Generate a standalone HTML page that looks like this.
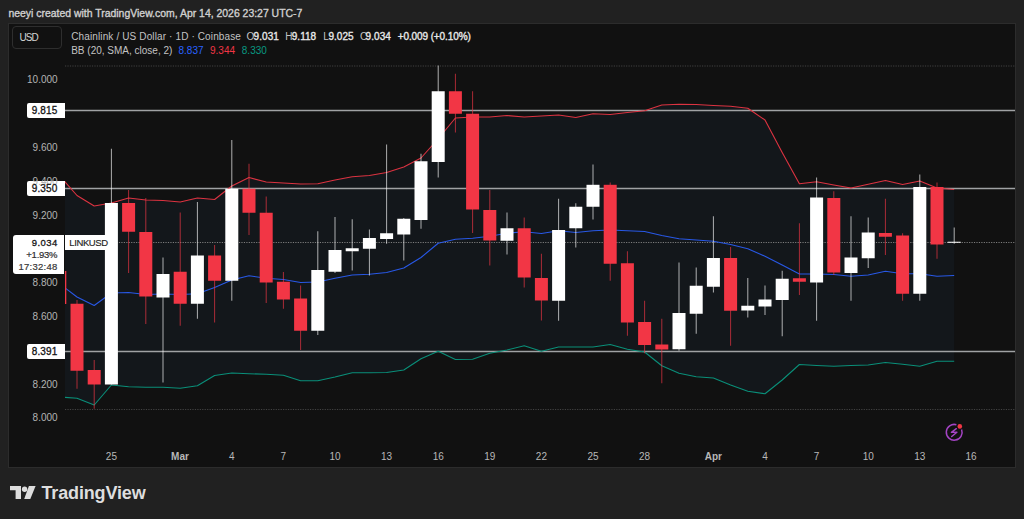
<!DOCTYPE html>
<html><head><meta charset="utf-8"><style>
*{margin:0;padding:0;box-sizing:border-box}
html,body{width:1024px;height:519px;overflow:hidden;background:#212121;font-family:"Liberation Sans",sans-serif}
.t{position:absolute;white-space:nowrap}
.panel{position:absolute;left:8px;top:23px;width:1008px;height:445px;background:#111111;border:1px solid #2c2c2c}
.chart{position:absolute;left:65px;top:24px}
.usd{position:absolute;left:12px;top:26px;width:50px;height:23px;border:1px solid #2e2e2e;border-radius:4px}
.tag{position:absolute;left:27px;width:38px;height:15px;background:#fff;border-radius:2px 0 0 2px}
.cur{position:absolute;left:13px;top:235px;width:51px;height:39px;background:#fff;border-radius:3px 0 0 3px}
.sym{position:absolute;left:65.3px;top:235px;width:45px;height:15px;background:#fff}
.logo{position:absolute;left:10px;top:486px}
</style></head><body>
<div class="panel"></div>
<svg class="chart" width="950" height="443" viewBox="65 24 950 443">
<defs><clipPath id="cp"><rect x="65" y="24" width="950" height="443"/></clipPath></defs>
<g clip-path="url(#cp)">
<polygon points="59.8,176 77,195.5 94.2,206 111.4,203 128.6,198 145.8,200 163,200.5 180.2,202 197.4,198 214.6,199.5 231.8,186 249,177.5 266.2,182 283.4,183 300.6,184 317.8,183.75 335,180 352.2,176.75 369.4,175.5 386.6,172.5 403.8,167 421,158 438.2,138.75 455.4,118 472.6,117 489.8,117 507,115.5 524.2,117 541.4,116 558.6,115 575.8,117.5 593,113.75 610.2,114.5 627.4,112.5 644.6,110.75 661.8,105 679,104.25 696.2,104.5 713.4,105.5 730.6,106.25 747.8,108.25 765,120 782.2,152.5 799.4,183.75 816.6,181.75 833.8,185 851,188 868.2,184.25 885.4,180.5 902.6,184.5 919.8,181 937,188 954.2,189.5 954.2,361.25 937,361.25 919.8,366.25 902.6,364.25 885.4,362.5 868.2,365 851,365.5 833.8,366.25 816.6,365.5 799.4,364.5 782.2,380 765,393.8 747.8,391.25 730.6,385 713.4,378 696.2,376.75 679,373.25 661.8,365.75 644.6,352 627.4,349.25 610.2,344.5 593,347 575.8,347 558.6,347 541.4,351.25 524.2,345.75 507,350 489.8,353.25 472.6,359.25 455.4,359.5 438.2,351.25 421,358.75 403.8,370 386.6,372.5 369.4,372.75 352.2,372.75 335,377 317.8,380.75 300.6,380.75 283.4,375.25 266.2,374.25 249,373.75 231.8,373 214.6,375.5 197.4,385.75 180.2,388.25 163,387.25 145.8,387.25 128.6,386.75 111.4,385 94.2,405 77,398.25 59.8,397" fill="#13171b"/>
<line x1="65" y1="66" x2="1015" y2="66" stroke="#434343" stroke-width="1" stroke-dasharray="1.2 1.25"/>
<line x1="65" y1="409.5" x2="1015" y2="409.5" stroke="#434343" stroke-width="1" stroke-dasharray="1.2 1.25"/>
<line x1="65" y1="242.5" x2="1015" y2="242.5" stroke="#7c7c7c" stroke-width="1" stroke-dasharray="1.2 1.25"/>
<line x1="65" y1="110.5" x2="1015" y2="110.5" stroke="#a0a2a4" stroke-width="1.3"/>
<line x1="65" y1="188.5" x2="1015" y2="188.5" stroke="#a0a2a4" stroke-width="1.3"/>
<line x1="65" y1="351.5" x2="1015" y2="351.5" stroke="#a0a2a4" stroke-width="1.3"/>
<polyline points="59.8,176 77,195.5 94.2,206 111.4,203 128.6,198 145.8,200 163,200.5 180.2,202 197.4,198 214.6,199.5 231.8,186 249,177.5 266.2,182 283.4,183 300.6,184 317.8,183.75 335,180 352.2,176.75 369.4,175.5 386.6,172.5 403.8,167 421,158 438.2,138.75 455.4,118 472.6,117 489.8,117 507,115.5 524.2,117 541.4,116 558.6,115 575.8,117.5 593,113.75 610.2,114.5 627.4,112.5 644.6,110.75 661.8,105 679,104.25 696.2,104.5 713.4,105.5 730.6,106.25 747.8,108.25 765,120 782.2,152.5 799.4,183.75 816.6,181.75 833.8,185 851,188 868.2,184.25 885.4,180.5 902.6,184.5 919.8,181 937,188 954.2,189.5" fill="none" stroke="#dc3341" stroke-width="1.1" stroke-linejoin="round"/>
<polyline points="59.8,284 77,297 94.2,305.5 111.4,293 128.6,292.5 145.8,294.5 163,294 180.2,294.5 197.4,293.75 214.6,287.5 231.8,280 249,275.75 266.2,278.25 283.4,279.5 300.6,282.5 317.8,282 335,278.25 352.2,275 369.4,274.25 386.6,272.5 403.8,268 421,257.5 438.2,243.25 455.4,239.25 472.6,238.25 489.8,236.25 507,233.25 524.2,231.75 541.4,233.5 558.6,230.75 575.8,232.5 593,230.75 610.2,230 627.4,230.75 644.6,231.5 661.8,235.5 679,238.75 696.2,240 713.4,241.25 730.6,244.5 747.8,248.75 765,256.25 782.2,265 799.4,274 816.6,274 833.8,274.5 851,276.25 868.2,275 885.4,271.25 902.6,273.75 919.8,273.75 937,276.25 954.2,275.5" fill="none" stroke="#2858e6" stroke-width="1.1" stroke-linejoin="round"/>
<polyline points="59.8,397 77,398.25 94.2,405 111.4,385 128.6,386.75 145.8,387.25 163,387.25 180.2,388.25 197.4,385.75 214.6,375.5 231.8,373 249,373.75 266.2,374.25 283.4,375.25 300.6,380.75 317.8,380.75 335,377 352.2,372.75 369.4,372.75 386.6,372.5 403.8,370 421,358.75 438.2,351.25 455.4,359.5 472.6,359.25 489.8,353.25 507,350 524.2,345.75 541.4,351.25 558.6,347 575.8,347 593,347 610.2,344.5 627.4,349.25 644.6,352 661.8,365.75 679,373.25 696.2,376.75 713.4,378 730.6,385 747.8,391.25 765,393.8 782.2,380 799.4,364.5 816.6,365.5 833.8,366.25 851,365.5 868.2,365 885.4,362.5 902.6,364.25 919.8,366.25 937,361.25 954.2,361.25" fill="none" stroke="#0a8f79" stroke-width="1.1" stroke-linejoin="round"/>
<rect x="59.3" y="265" width="1" height="45" fill="#f23645" fill-opacity="0.68"/><rect x="53.3" y="271" width="13" height="33" fill="#f23645"/><rect x="76.5" y="300" width="1" height="88.75" fill="#f23645" fill-opacity="0.68"/><rect x="70.5" y="303.75" width="13" height="67" fill="#f23645"/><rect x="93.7" y="360" width="1" height="48.75" fill="#f23645" fill-opacity="0.68"/><rect x="87.7" y="370" width="13" height="14.5" fill="#f23645"/><rect x="110.9" y="148.75" width="1" height="235.75" fill="#ffffff" fill-opacity="0.66"/><rect x="104.9" y="203" width="13" height="181.5" fill="#ffffff"/><rect x="128.1" y="190" width="1" height="83" fill="#f23645" fill-opacity="0.68"/><rect x="122.1" y="203" width="13" height="28.75" fill="#f23645"/><rect x="145.3" y="198" width="1" height="126" fill="#f23645" fill-opacity="0.68"/><rect x="139.3" y="232" width="13" height="64.5" fill="#f23645"/><rect x="162.5" y="257.5" width="1" height="125" fill="#ffffff" fill-opacity="0.66"/><rect x="156.5" y="274" width="13" height="23.5" fill="#ffffff"/><rect x="179.7" y="212.5" width="1" height="113.25" fill="#f23645" fill-opacity="0.68"/><rect x="173.7" y="271.75" width="13" height="32" fill="#f23645"/><rect x="196.9" y="202" width="1" height="116.75" fill="#ffffff" fill-opacity="0.66"/><rect x="190.9" y="255.5" width="13" height="48.25" fill="#ffffff"/><rect x="214.1" y="245" width="1" height="77.5" fill="#f23645" fill-opacity="0.68"/><rect x="208.1" y="255.5" width="13" height="25.25" fill="#f23645"/><rect x="231.3" y="140" width="1" height="160.75" fill="#ffffff" fill-opacity="0.66"/><rect x="225.3" y="188.75" width="13" height="92" fill="#ffffff"/><rect x="248.5" y="163.75" width="1" height="71.25" fill="#f23645" fill-opacity="0.68"/><rect x="242.5" y="188.75" width="13" height="24" fill="#f23645"/><rect x="265.7" y="196.5" width="1" height="106.5" fill="#f23645" fill-opacity="0.68"/><rect x="259.7" y="212.75" width="13" height="69.75" fill="#f23645"/><rect x="282.9" y="272" width="1" height="36.75" fill="#f23645" fill-opacity="0.68"/><rect x="276.9" y="281.75" width="13" height="17.75" fill="#f23645"/><rect x="300.1" y="285.5" width="1" height="64.5" fill="#f23645" fill-opacity="0.68"/><rect x="294.1" y="298.5" width="13" height="32.25" fill="#f23645"/><rect x="317.3" y="231.25" width="1" height="103.75" fill="#ffffff" fill-opacity="0.66"/><rect x="311.3" y="270" width="13" height="60.75" fill="#ffffff"/><rect x="334.5" y="217" width="1" height="56" fill="#ffffff" fill-opacity="0.66"/><rect x="328.5" y="250" width="13" height="21.75" fill="#ffffff"/><rect x="351.7" y="219.25" width="1" height="51.25" fill="#ffffff" fill-opacity="0.66"/><rect x="345.7" y="248.25" width="13" height="3" fill="#ffffff"/><rect x="368.9" y="229.5" width="1" height="46" fill="#ffffff" fill-opacity="0.66"/><rect x="362.9" y="238" width="13" height="10.75" fill="#ffffff"/><rect x="386.1" y="144.5" width="1" height="99.25" fill="#ffffff" fill-opacity="0.66"/><rect x="380.1" y="233.25" width="13" height="5.75" fill="#ffffff"/><rect x="403.3" y="218" width="1" height="42.5" fill="#ffffff" fill-opacity="0.66"/><rect x="397.3" y="218.75" width="13" height="15.75" fill="#ffffff"/><rect x="420.5" y="153.75" width="1" height="75" fill="#ffffff" fill-opacity="0.66"/><rect x="414.5" y="161.25" width="13" height="58.75" fill="#ffffff"/><rect x="437.7" y="65.5" width="1" height="112" fill="#ffffff" fill-opacity="0.66"/><rect x="431.7" y="91.25" width="13" height="70.75" fill="#ffffff"/><rect x="454.9" y="73.75" width="1" height="58.75" fill="#f23645" fill-opacity="0.68"/><rect x="448.9" y="91.25" width="13" height="22.5" fill="#f23645"/><rect x="472.1" y="91.25" width="1" height="141.75" fill="#f23645" fill-opacity="0.68"/><rect x="466.1" y="113.75" width="13" height="95.75" fill="#f23645"/><rect x="489.3" y="190" width="1" height="75.5" fill="#f23645" fill-opacity="0.68"/><rect x="483.3" y="210" width="13" height="30.5" fill="#f23645"/><rect x="506.5" y="212.5" width="1" height="42" fill="#ffffff" fill-opacity="0.66"/><rect x="500.5" y="228.25" width="13" height="12.5" fill="#ffffff"/><rect x="523.7" y="217.5" width="1" height="70" fill="#f23645" fill-opacity="0.68"/><rect x="517.7" y="228.25" width="13" height="49.25" fill="#f23645"/><rect x="540.9" y="253.75" width="1" height="66.75" fill="#f23645" fill-opacity="0.68"/><rect x="534.9" y="278" width="13" height="22.5" fill="#f23645"/><rect x="558.1" y="198.75" width="1" height="122" fill="#ffffff" fill-opacity="0.66"/><rect x="552.1" y="230" width="13" height="70.75" fill="#ffffff"/><rect x="575.3" y="203.25" width="1" height="44.25" fill="#ffffff" fill-opacity="0.66"/><rect x="569.3" y="206.75" width="13" height="21.5" fill="#ffffff"/><rect x="592.5" y="164.5" width="1" height="55" fill="#ffffff" fill-opacity="0.66"/><rect x="586.5" y="184.8" width="13" height="21.95" fill="#ffffff"/><rect x="609.7" y="182.5" width="1" height="98.25" fill="#f23645" fill-opacity="0.68"/><rect x="603.7" y="184.8" width="13" height="78.95" fill="#f23645"/><rect x="626.9" y="251.25" width="1" height="84.5" fill="#f23645" fill-opacity="0.68"/><rect x="620.9" y="263.25" width="13" height="59.25" fill="#f23645"/><rect x="644.1" y="300.75" width="1" height="52.5" fill="#f23645" fill-opacity="0.68"/><rect x="638.1" y="322" width="13" height="23" fill="#f23645"/><rect x="661.3" y="318.75" width="1" height="64.5" fill="#f23645" fill-opacity="0.68"/><rect x="655.3" y="344.5" width="13" height="5" fill="#f23645"/><rect x="678.5" y="262.5" width="1" height="88.25" fill="#ffffff" fill-opacity="0.66"/><rect x="672.5" y="313" width="13" height="36.25" fill="#ffffff"/><rect x="695.7" y="267.5" width="1" height="66.25" fill="#ffffff" fill-opacity="0.66"/><rect x="689.7" y="285.75" width="13" height="28" fill="#ffffff"/><rect x="712.9" y="216.25" width="1" height="76.25" fill="#ffffff" fill-opacity="0.66"/><rect x="706.9" y="258" width="13" height="28.75" fill="#ffffff"/><rect x="730.1" y="247" width="1" height="98.75" fill="#f23645" fill-opacity="0.68"/><rect x="724.1" y="258" width="13" height="52.75" fill="#f23645"/><rect x="747.3" y="278" width="1" height="39.5" fill="#ffffff" fill-opacity="0.66"/><rect x="741.3" y="305.75" width="13" height="4.75" fill="#ffffff"/><rect x="764.5" y="285.5" width="1" height="29.5" fill="#ffffff" fill-opacity="0.66"/><rect x="758.5" y="299.5" width="13" height="7" fill="#ffffff"/><rect x="781.7" y="270.75" width="1" height="65.5" fill="#ffffff" fill-opacity="0.66"/><rect x="775.7" y="278.75" width="13" height="21.25" fill="#ffffff"/><rect x="798.9" y="223.25" width="1" height="71.75" fill="#f23645" fill-opacity="0.68"/><rect x="792.9" y="278.25" width="13" height="3.5" fill="#f23645"/><rect x="816.1" y="177.5" width="1" height="143.25" fill="#ffffff" fill-opacity="0.66"/><rect x="810.1" y="197.5" width="13" height="85" fill="#ffffff"/><rect x="833.3" y="191.25" width="1" height="83.75" fill="#f23645" fill-opacity="0.68"/><rect x="827.3" y="198" width="13" height="74.5" fill="#f23645"/><rect x="850.5" y="216.25" width="1" height="84.5" fill="#ffffff" fill-opacity="0.66"/><rect x="844.5" y="257.5" width="13" height="15.5" fill="#ffffff"/><rect x="867.7" y="217.5" width="1" height="50.5" fill="#ffffff" fill-opacity="0.66"/><rect x="861.7" y="232.5" width="13" height="25.75" fill="#ffffff"/><rect x="884.9" y="198.75" width="1" height="56.25" fill="#f23645" fill-opacity="0.68"/><rect x="878.9" y="233" width="13" height="3.75" fill="#f23645"/><rect x="902.1" y="233.25" width="1" height="67.5" fill="#f23645" fill-opacity="0.68"/><rect x="896.1" y="235.5" width="13" height="58.25" fill="#f23645"/><rect x="919.3" y="174.5" width="1" height="126.25" fill="#ffffff" fill-opacity="0.66"/><rect x="913.3" y="187" width="13" height="106.75" fill="#ffffff"/><rect x="936.5" y="182.5" width="1" height="76.25" fill="#f23645" fill-opacity="0.68"/><rect x="930.5" y="187" width="13" height="57.5" fill="#f23645"/><rect x="953.7" y="227.5" width="1" height="16.25" fill="#ffffff" fill-opacity="0.66"/><rect x="947.7" y="241.75" width="13" height="1" fill="#ffffff"/>
</g>
</svg>
<div class="usd"></div>
<div class="tag" style="top:102.95px"></div><div class="tag" style="top:181px"></div><div class="tag" style="top:343.8px"></div>
<div class="cur"></div>
<div class="sym"></div>
<div class="t" style="left:8.4px;top:9px;font-size:10.45px;line-height:10.45px;color:#d0d0d0;font-weight:normal;-webkit-text-stroke:0.35px #d0d0d0">neeyi created with TradingView.com, Apr 14, 2026 23:27 UTC-7</div><div class="t" style="left:71.2px;top:32px;font-size:10px;line-height:10px;color:#c3c3c3;font-weight:normal;letter-spacing:0.13px">Chainlink / US Dollar · 1D · Coinbase</div><div class="t" style="left:246.5px;top:32px;font-size:10px;line-height:10px;color:#c3c3c3;font-weight:normal;">O</div><div class="t" style="left:253.6px;top:32px;font-size:10px;line-height:10px;color:#e8e8e8;font-weight:normal;letter-spacing:0.05px;-webkit-text-stroke:0.35px">9.031</div><div class="t" style="left:285.2px;top:32px;font-size:10px;line-height:10px;color:#c3c3c3;font-weight:normal;">H</div><div class="t" style="left:291.7px;top:32px;font-size:10px;line-height:10px;color:#e8e8e8;font-weight:normal;letter-spacing:0.05px;-webkit-text-stroke:0.35px">9.118</div><div class="t" style="left:323.3px;top:32px;font-size:10px;line-height:10px;color:#c3c3c3;font-weight:normal;">L</div><div class="t" style="left:328.4px;top:32px;font-size:10px;line-height:10px;color:#e8e8e8;font-weight:normal;letter-spacing:0.05px;-webkit-text-stroke:0.35px">9.025</div><div class="t" style="left:360px;top:32px;font-size:10px;line-height:10px;color:#c3c3c3;font-weight:normal;">C</div><div class="t" style="left:365.6px;top:32px;font-size:10px;line-height:10px;color:#e8e8e8;font-weight:normal;letter-spacing:0.05px;-webkit-text-stroke:0.35px">9.034</div><div class="t" style="left:397.7px;top:32px;font-size:10px;line-height:10px;color:#e8e8e8;font-weight:normal;letter-spacing:-0.1px;-webkit-text-stroke:0.35px">+0.009 (+0.10%)</div><div class="t" style="left:71.2px;top:46px;font-size:10px;line-height:10px;color:#c3c3c3;font-weight:normal;">BB (20, SMA, close, 2)</div><div class="t" style="left:178.5px;top:46px;font-size:10px;line-height:10px;color:#2962ff;font-weight:normal;">8.837</div><div class="t" style="left:210px;top:46px;font-size:10px;line-height:10px;color:#f23645;font-weight:normal;">9.344</div><div class="t" style="left:241.8px;top:46px;font-size:10px;line-height:10px;color:#089981;font-weight:normal;">8.330</div><div class="t" style="right:966.4px;top:75px;font-size:10px;line-height:10px;color:#b4b4b4;font-weight:normal;text-align:right;">10.000</div><div class="t" style="right:966.4px;top:143px;font-size:10px;line-height:10px;color:#b4b4b4;font-weight:normal;text-align:right;">9.600</div><div class="t" style="right:966.4px;top:177px;font-size:10px;line-height:10px;color:#b4b4b4;font-weight:normal;text-align:right;">9.400</div><div class="t" style="right:966.4px;top:211px;font-size:10px;line-height:10px;color:#b4b4b4;font-weight:normal;text-align:right;">9.200</div><div class="t" style="right:966.4px;top:278px;font-size:10px;line-height:10px;color:#b4b4b4;font-weight:normal;text-align:right;">8.800</div><div class="t" style="right:966.4px;top:312px;font-size:10px;line-height:10px;color:#b4b4b4;font-weight:normal;text-align:right;">8.600</div><div class="t" style="right:966.4px;top:380px;font-size:10px;line-height:10px;color:#b4b4b4;font-weight:normal;text-align:right;">8.200</div><div class="t" style="right:966.4px;top:413px;font-size:10px;line-height:10px;color:#b4b4b4;font-weight:normal;text-align:right;">8.000</div><div class="t" style="right:966.7px;top:106px;font-size:10px;line-height:10px;color:#131313;font-weight:normal;text-align:right;letter-spacing:0.1px;-webkit-text-stroke:0.3px">9.815</div><div class="t" style="right:966.7px;top:184px;font-size:10px;line-height:10px;color:#131313;font-weight:normal;text-align:right;letter-spacing:0.1px;-webkit-text-stroke:0.3px">9.350</div><div class="t" style="right:966.7px;top:347px;font-size:10px;line-height:10px;color:#131313;font-weight:normal;text-align:right;letter-spacing:0.1px;-webkit-text-stroke:0.3px">8.391</div><div class="t" style="left:61.4px;width:100px;text-align:center;top:452px;font-size:10px;line-height:10px;color:#b8b8b8;font-weight:normal;">25</div><div class="t" style="left:130px;width:100px;text-align:center;top:452px;font-size:10px;line-height:10px;color:#b8b8b8;font-weight:bold;">Mar</div><div class="t" style="left:181.8px;width:100px;text-align:center;top:452px;font-size:10px;line-height:10px;color:#b8b8b8;font-weight:normal;">4</div><div class="t" style="left:233.4px;width:100px;text-align:center;top:452px;font-size:10px;line-height:10px;color:#b8b8b8;font-weight:normal;">7</div><div class="t" style="left:285px;width:100px;text-align:center;top:452px;font-size:10px;line-height:10px;color:#b8b8b8;font-weight:normal;">10</div><div class="t" style="left:336.6px;width:100px;text-align:center;top:452px;font-size:10px;line-height:10px;color:#b8b8b8;font-weight:normal;">13</div><div class="t" style="left:388.2px;width:100px;text-align:center;top:452px;font-size:10px;line-height:10px;color:#b8b8b8;font-weight:normal;">16</div><div class="t" style="left:439.8px;width:100px;text-align:center;top:452px;font-size:10px;line-height:10px;color:#b8b8b8;font-weight:normal;">19</div><div class="t" style="left:491.4px;width:100px;text-align:center;top:452px;font-size:10px;line-height:10px;color:#b8b8b8;font-weight:normal;">22</div><div class="t" style="left:543px;width:100px;text-align:center;top:452px;font-size:10px;line-height:10px;color:#b8b8b8;font-weight:normal;">25</div><div class="t" style="left:594.6px;width:100px;text-align:center;top:452px;font-size:10px;line-height:10px;color:#b8b8b8;font-weight:normal;">28</div><div class="t" style="left:663.4px;width:100px;text-align:center;top:452px;font-size:10px;line-height:10px;color:#b8b8b8;font-weight:bold;">Apr</div><div class="t" style="left:715px;width:100px;text-align:center;top:452px;font-size:10px;line-height:10px;color:#b8b8b8;font-weight:normal;">4</div><div class="t" style="left:766.6px;width:100px;text-align:center;top:452px;font-size:10px;line-height:10px;color:#b8b8b8;font-weight:normal;">7</div><div class="t" style="left:818.2px;width:100px;text-align:center;top:452px;font-size:10px;line-height:10px;color:#b8b8b8;font-weight:normal;">10</div><div class="t" style="left:869.8px;width:100px;text-align:center;top:452px;font-size:10px;line-height:10px;color:#b8b8b8;font-weight:normal;">13</div><div class="t" style="left:921px;width:100px;text-align:center;top:452px;font-size:10px;line-height:10px;color:#b8b8b8;font-weight:normal;">16</div><div class="t" style="left:19.5px;top:33px;font-size:10px;line-height:10px;color:#d4d4d4;font-weight:normal;letter-spacing:-0.9px">USD</div><div class="t" style="right:966.4px;top:238px;font-size:9.5px;line-height:9.5px;color:#161616;font-weight:normal;text-align:right;letter-spacing:0.4px;-webkit-text-stroke:0.3px">9.034</div><div class="t" style="right:966.7px;top:250px;font-size:9.5px;line-height:9.5px;color:#2e2e2e;font-weight:normal;text-align:right;letter-spacing:-0.25px;-webkit-text-stroke:0.2px">+1.93%</div><div class="t" style="right:966.5px;top:262px;font-size:9.5px;line-height:9.5px;color:#383838;font-weight:normal;text-align:right;letter-spacing:0.25px;-webkit-text-stroke:0.2px">17:32:48</div><div class="t" style="left:69.3px;top:238px;font-size:9.5px;line-height:9.5px;color:#1e1e1e;font-weight:normal;letter-spacing:-0.4px;-webkit-text-stroke:0.15px">LINKUSD</div>
<svg style="position:absolute;left:943px;top:421px" width="23" height="23" viewBox="943 421 23 23">
<path d="M956.38,424.71 A7.9,7.9 0 1 0 961.58,429.47" fill="none" stroke="#a444c4" stroke-width="1.5"/>
<polyline points="956.3,428.7 951.4,432.4 956.9,432.3 951.7,436.5" fill="none" stroke="#a444c4" stroke-width="1.45" stroke-linejoin="round" stroke-linecap="round"/>
<circle cx="959.8" cy="426.4" r="2.3" fill="#f23645"/>
</svg>
<svg class="logo" width="26" height="14" viewBox="0 0 26 14">
<path d="M0,0 H11 V13 H5.6 V4.3 H0 Z" fill="#dedede"/>
<circle cx="14.6" cy="3.3" r="2.7" fill="#dedede"/>
<path d="M18.9,0 H25.6 L20.3,13 H14.2 Z" fill="#dedede"/>
</svg>
<div class="t" style="left:41.5px;top:484px;font-size:18px;line-height:18px;color:#dedede;font-weight:bold;letter-spacing:-0.15px">TradingView</div>
</body></html>
